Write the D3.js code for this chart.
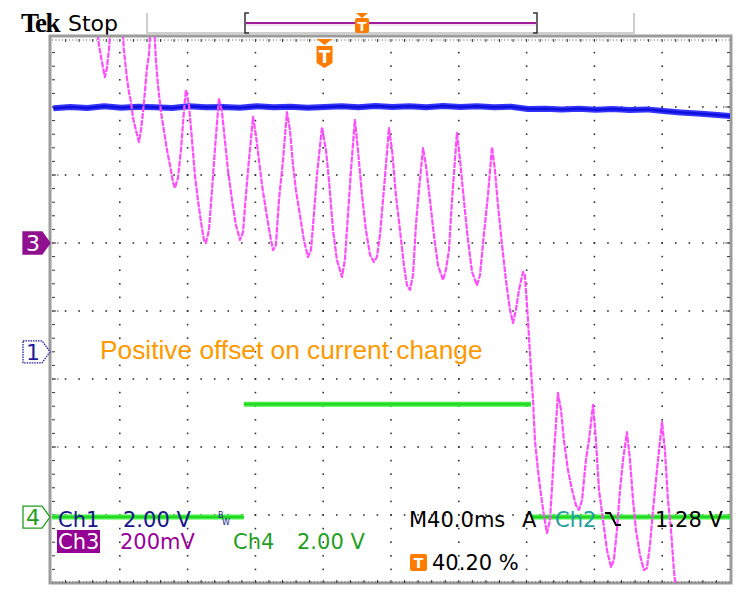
<!DOCTYPE html>
<html>
<head>
<meta charset="utf-8">
<script src="https://cdn.jsdelivr.net/npm/d3@7"></script>
<style>
  body { margin: 0; background: #fff; }
  text { font-family: "DejaVu Sans", sans-serif; }
</style>
</head>
<body>
<div id="chart-area"></div>
<script>
// scope settings
var timePerDiv = 40;      // ms
var triggerPct = 40.2;    // % of record before trigger
var ch1PerDiv = 2, ch1Pos = -0.6;     // V/div, divisions
var ch3PerDiv = 200, ch3Pos = 1.0;    // mV/div
var ch4PerDiv = 2, ch4Pos = -3.03;    // V/div

// Ch3 (current probe, mV)
var ch3Time = [-134.9, -133.1, -131.3, -129.6, -128.4, -127.2, -126.0, -119.5, -118.4, -116.6,
  -115.4, -114.2, -113.0, -111.3, -109.5, -108.3, -107.1, -106.0, -104.8, -103.6,
  -102.4, -100.7, -99.5, -98.3, -96.5, -94.8, -93.0, -91.2, -89.4, -88.3,
  -86.5, -84.7, -83.0, -81.8, -80.0, -78.2, -76.5, -74.7, -72.9, -71.2,
  -70.0, -68.2, -66.4, -64.7, -62.3, -60.5, -58.8, -57.0, -54.6, -52.3,
  -49.9, -48.1, -46.4, -44.6, -42.2, -40.5, -38.7, -36.9, -34.6, -32.2,
  -30.4, -28.7, -26.9, -24.5, -22.2, -20.4, -18.6, -16.9, -14.5, -12.2,
  -9.8, -8.0, -6.3, -4.5, -1.5, 0.8, 2.6, 5.0, 7.3, 10.3,
  12.0, 13.8, 15.6, 17.9, 19.7, 22.1, 24.4, 26.8, 29.1, 30.9,
  32.7, 35.0, 38.0, 39.8, 42.1, 44.5, 46.8, 48.6, 50.4, 52.2,
  53.9, 55.7, 58.1, 59.8, 62.2, 64.5, 66.9, 69.9, 71.6, 73.4,
  75.2, 78.1, 79.9, 82.2, 84.6, 87.0, 89.9, 91.7, 94.0, 96.4,
  98.8, 100.5, 102.3, 104.7, 107.0, 109.4, 111.2, 112.9, 114.7, 117.1,
  118.2, 120.0, 121.8, 123.0, 124.1, 125.9, 127.7, 129.4, 131.2, 133.0,
  134.8, 135.9, 137.7, 139.5, 141.2, 143.6, 146.0, 148.3, 150.1, 151.9,
  154.2, 156.0, 158.4, 160.1, 161.9, 164.3, 166.6, 169.0, 170.7, 172.5,
  174.3, 176.1, 178.4, 180.2, 182.0, 183.7, 186.1, 188.4, 190.2, 192.0,
  193.8, 196.1, 199.1, 200.8, 202.6, 204.4, 206.1, 207.9];
var ch3mV = [656, 582, 532, 488, 515, 568, 656, 656, 568, 485,
  444, 415, 368, 332, 297, 332, 385, 444, 515, 553,
  656, 656, 538, 465, 385, 332, 274, 229, 179, 162,
  191, 274, 385, 450, 406, 303, 200, 126, 62, 9,
  0, 38, 156, 274, 426, 385, 303, 215, 126, 53,
  9, 32, 141, 244, 371, 318, 244, 171, 97, 24,
  -21, -6, 126, 244, 385, 332, 229, 156, 82, 9,
  -41, -21, 82, 200, 341, 274, 185, 38, -50, -100,
  -50, 82, 215, 362, 274, 141, 38, -35, -56, -41,
  24, 156, 338, 274, 141, 38, -65, -124, -138, -94,
  53, 156, 279, 229, 126, 24, -65, -109, -79, -21,
  126, 324, 244, 126, 9, -85, -124, -94, 24, 141,
  282, 215, 112, -6, -109, -197, -235, -197, -138, -85,
  -94, -226, -374, -462, -579, -668, -741, -800, -853, -815,
  -668, -579, -441, -491, -579, -668, -726, -771, -785, -756,
  -638, -579, -476, -579, -726, -815, -903, -953, -932, -844,
  -726, -638, -556, -638, -756, -844, -918, -962, -956, -888,
  -785, -668, -526, -609, -756, -844, -962, -1050];

// Ch1 (V)
var ch1Time = [-160, -150, -140, -130, -120, -110, -100, -90, -80, -70,
  -60, -50, -40, -30, -20, -10, 0, 10, 20, 30,
  40, 50, 60, 70, 80, 90, 100, 110, 120, 130,
  140, 150, 160, 170, 180, 190, 200, 210, 220, 230, 240];
var ch1Volts = [7.16, 7.20, 7.17, 7.22, 7.18, 7.21, 7.19, 7.17, 7.22, 7.19,
  7.20, 7.18, 7.22, 7.19, 7.21, 7.18, 7.20, 7.22, 7.19, 7.23,
  7.20, 7.22, 7.19, 7.23, 7.20, 7.22, 7.19, 7.21, 7.14, 7.15,
  7.13, 7.15, 7.12, 7.14, 7.11, 7.13, 7.08, 7.04, 7.01, 6.97, 6.93];

// Ch4 (V)
var ch4Time = [-160.8, -47.6, -47.6, 121.8, 121.8, 239.2];
var ch4Volts = [0, 0, 3.32, 3.32, 0, 0];

var plotLeft = 52, plotRight = 730, plotTop = 39, plotBottom = 583;
var W = 741, H = 592;

var svg = d3.select("#chart-area").append("svg")
    .attr("width", W)
    .attr("height", H);

// X scale (ms, relative to trigger)
var recLen = timePerDiv * 10;
var x = d3.scaleLinear()
  .domain([-recLen * triggerPct / 100, recLen * (1 - triggerPct / 100)])
  .range([plotLeft, plotRight]);

// division scale and per channel scales
var yDiv = d3.scaleLinear().domain([-4, 4]).range([plotBottom, plotTop]);
function chScale(pos, perDiv) {
  return d3.scaleLinear()
    .domain([(-4 - pos) * perDiv, (4 - pos) * perDiv])
    .range([plotBottom, plotTop]);
}
var y1 = chScale(ch1Pos, ch1PerDiv);
var y3 = chScale(ch3Pos, ch3PerDiv);
var y4 = chScale(ch4Pos, ch4PerDiv);

// header
svg.append("text")
  .attr("x", 21).attr("y", 32)
  .style("font-family", "'Liberation Serif', serif")
  .attr("font-weight", "bold")
  .attr("font-size", "27px")
  .attr("letter-spacing", "-1.5px")
  .text("Tek");
svg.append("text")
  .attr("x", 68).attr("y", 31)
  .attr("font-size", "22px")
  .text("Stop");

svg.append("path")
  .attr("d", "M147,13 V33 H634 V13")
  .attr("fill", "none")
  .attr("stroke", "#cfcfcf")
  .attr("stroke-width", 2);

// record bracket
svg.append("line")
  .attr("x1", 246).attr("x2", 536).attr("y1", 23).attr("y2", 23)
  .attr("stroke", "#a01c9c").attr("stroke-width", 2);
svg.append("line")
  .attr("x1", 246).attr("x2", 536).attr("y1", 25).attr("y2", 25)
  .attr("stroke", "#e8c8e8").attr("stroke-width", 1);
svg.append("path")
  .attr("d", "M249,13 H245 V33 H249 M533,13 H537 V33 H533")
  .attr("fill", "none").attr("stroke", "#333").attr("stroke-width", 1.5);
svg.append("path")
  .attr("d", "M356,13 H368 L362,18 Z M357,18 H367 Q369,18 369,20 V31 Q369,33 367,33 H357 Q355,33 355,31 V20 Q355,18 357,18 Z")
  .attr("fill", "#ff7c00");
svg.append("text")
  .attr("x", 362).attr("y", 31)
  .attr("text-anchor", "middle")
  .attr("font-size", "13px").attr("font-weight", "bold")
  .attr("fill", "#fff")
  .text("T");

// graticule frame
svg.append("rect")
  .attr("x", plotLeft - 2).attr("y", plotTop - 3)
  .attr("width", plotRight - plotLeft + 3).attr("height", plotBottom - plotTop + 3)
  .attr("fill", "none")
  .attr("stroke", "#9c9c9c")
  .attr("stroke-width", 3);

var g = svg.append("g");

// grid dots along each major line
var majorX = d3.range(1, 10).map(k => x.domain()[0] + k * timePerDiv);
var minorX = d3.range(1, 50).map(k => x.domain()[0] + k * timePerDiv / 5);
var majorY = d3.range(-3, 4);
var minorY = d3.range(-19, 20).map(k => k / 5);

majorX.forEach(t => {
  g.selectAll(null)
    .data(minorY)
    .enter().append("rect")
      .attr("x", x(t) - 0.8)
      .attr("y", d => yDiv(d) - 0.8)
      .attr("width", 1.6).attr("height", 1.6)
      .attr("fill", "#333");
});
majorY.forEach(v => {
  g.selectAll(null)
    .data(minorX)
    .enter().append("rect")
      .attr("x", d => x(d) - 0.8)
      .attr("y", yDiv(v) - 0.8)
      .attr("width", 1.6).attr("height", 1.6)
      .attr("fill", "#333");
});

// border ticks
g.selectAll(null).data(minorX).enter().append("line")
  .attr("x1", d => x(d)).attr("x2", d => x(d))
  .attr("y1", plotTop).attr("y2", plotTop + 3)
  .attr("stroke", "#333").attr("stroke-width", 1);
g.selectAll(null).data(minorX).enter().append("line")
  .attr("x1", d => x(d)).attr("x2", d => x(d))
  .attr("y1", plotBottom - 3).attr("y2", plotBottom)
  .attr("stroke", "#333").attr("stroke-width", 1);
g.selectAll(null).data(minorY).enter().append("line")
  .attr("x1", plotLeft).attr("x2", plotLeft + 3)
  .attr("y1", d => yDiv(d)).attr("y2", d => yDiv(d))
  .attr("stroke", "#333").attr("stroke-width", 1);
g.selectAll(null).data(minorY).enter().append("line")
  .attr("x1", plotRight - 3).attr("x2", plotRight)
  .attr("y1", d => yDiv(d)).attr("y2", d => yDiv(d))
  .attr("stroke", "#333").attr("stroke-width", 1);
// longer ticks where major lines meet the border
g.selectAll(null).data(majorY).enter().append("line")
  .attr("x1", plotLeft).attr("x2", plotLeft + 7)
  .attr("y1", d => yDiv(d)).attr("y2", d => yDiv(d))
  .attr("stroke", "#333").attr("stroke-dasharray", "1.5,1");
g.selectAll(null).data(majorY).enter().append("line")
  .attr("x1", plotRight - 7).attr("x2", plotRight)
  .attr("y1", d => yDiv(d)).attr("y2", d => yDiv(d))
  .attr("stroke", "#333").attr("stroke-dasharray", "1.5,1");
g.append("line")
  .attr("x1", plotLeft).attr("x2", plotRight).attr("y1", plotTop + 1).attr("y2", plotTop + 1)
  .attr("stroke", "#555").attr("stroke-dasharray", "1,2.4");
g.append("line")
  .attr("x1", plotLeft).attr("x2", plotRight).attr("y1", plotBottom - 1).attr("y2", plotBottom - 1)
  .attr("stroke", "#555").attr("stroke-dasharray", "1,2.4");

// traces
svg.append("clipPath").attr("id", "clip")
  .append("rect")
    .attr("x", plotLeft).attr("y", plotTop - 2)
    .attr("width", plotRight - plotLeft).attr("height", plotBottom - plotTop + 2);

var traces = svg.append("g").attr("clip-path", "url(#clip)");

// Ch4: levels only, edges are not drawn by the scope
var ch4 = ch4Time.map((t, i) => ({t: t, v: ch4Volts[i]}));
var ch4Segs = [];
for (var i = 0; i < ch4.length - 1; i++) {
  if (ch4[i].v === ch4[i + 1].v) ch4Segs.push([ch4[i], ch4[i + 1]]);
}
var line4 = d3.line().x(d => x(d.t)).y(d => y4(d.v));
traces.selectAll(".ch4")
  .data(ch4Segs)
  .enter().append("path")
    .attr("class", "ch4")
    .attr("d", line4)
    .attr("fill", "none")
    .attr("stroke", "#44ee44")
    .attr("stroke-width", 5);
traces.selectAll(".ch4core")
  .data(ch4Segs)
  .enter().append("path")
    .attr("class", "ch4core")
    .attr("d", line4)
    .attr("fill", "none")
    .attr("stroke", "#22d622")
    .attr("stroke-width", 2);

// Ch1
var line1 = d3.line().x((d, i) => x(ch1Time[i])).y(d => y1(d));
traces.append("path")
  .attr("d", line1(ch1Volts))
  .attr("fill", "none")
  .attr("stroke", "#3434ff")
  .attr("stroke-width", 6)
  .attr("stroke-linejoin", "round");
traces.append("path")
  .attr("d", line1(ch1Volts))
  .attr("fill", "none")
  .attr("stroke", "#1010dc")
  .attr("stroke-width", 2.5);

// Ch3
var line3 = d3.line().x((d, i) => x(ch3Time[i])).y(d => y3(d));
traces.append("path")
  .attr("d", line3(ch3mV))
  .attr("fill", "none")
  .attr("stroke", "#ff4dff")
  .attr("stroke-width", 2.2)
  .attr("stroke-linejoin", "round")
  .attr("stroke-dasharray", "6,1");

// trigger position marker
var tx = x(0);
svg.append("path")
  .attr("d", "M" + (tx - 8) + ",39 H" + (tx + 8) + " L" + tx + ",45 Z" +
    " M" + (tx - 8) + ",46 H" + (tx + 8) + " V63 L" + tx + ",68 L" + (tx - 8) + ",63 Z")
  .attr("fill", "#ff7c00");
svg.append("text")
  .attr("x", tx).attr("y", 63)
  .attr("text-anchor", "middle")
  .attr("font-size", "17px").attr("font-weight", "bold")
  .attr("fill", "#fff")
  .text("T");

// channel ground markers
function marker(num, pos, fill, stroke, textCol, dotted) {
  var yy = yDiv(pos);
  svg.append("path")
    .attr("d", "M23," + (yy - 11) + " H42 L50," + yy + " L42," + (yy + 11) + " H23 Z")
    .attr("fill", fill)
    .attr("stroke", stroke)
    .attr("stroke-width", 1.3)
    .attr("stroke-dasharray", dotted ? "1.5,1" : null);
  svg.append("text")
    .attr("x", 33).attr("y", yy + 8)
    .attr("text-anchor", "middle")
    .attr("font-size", "22px")
    .attr("fill", textCol)
    .text(num);
}
marker("3", ch3Pos, "#8f118f", "#8f118f", "#fff", false);
marker("1", ch1Pos, "#fff", "#1c1c9c", "#1c1c9c", true);
marker("4", ch4Pos, "#fff", "#1f9f1f", "#1f9f1f", false);

// annotation
svg.append("text")
  .attr("x", 100).attr("y", 359)
  .style("font-family", "'Liberation Sans', Arial, sans-serif")
  .attr("font-size", "26.3px")
  .attr("fill", "#ff9900")
  .text("Positive offset on current change");

// readouts
function label(txt, xx, yy, col) {
  return svg.append("text")
    .attr("x", xx).attr("y", yy)
    .attr("font-size", "21px")
    .attr("fill", col)
    .text(txt);
}
label("Ch1", 58, 527, "#16168a");
label(ch1PerDiv.toFixed(2) + " V", 123, 527, "#16168a");
svg.append("text").attr("x", 218).attr("y", 518)
  .attr("font-size", "8px").attr("fill", "#16168a").text("B");
svg.append("text").attr("x", 222).attr("y", 525)
  .attr("font-size", "8px").attr("fill", "#16168a").text("W");

svg.append("rect")
  .attr("x", 57).attr("y", 530)
  .attr("width", 43).attr("height", 23)
  .attr("fill", "#930093");
label("Ch3", 58, 549, "#fff");
label(ch3PerDiv + "mV", 120, 549, "#990099");
label("Ch4", 233, 549, "#1f9f1f");
label(ch4PerDiv.toFixed(2) + " V", 297, 549, "#1f9f1f");

label("M" + timePerDiv.toFixed(1) + "ms", 409, 527, "#000");
label("A", 522, 527, "#000");
label("Ch2", 555, 527, "#1fa0a0");
svg.append("path")
  .attr("d", "M605,513 H610 L616,525 H621")
  .attr("fill", "none").attr("stroke", "#000").attr("stroke-width", 2);
label("1.28 V", 655, 527, "#000");

svg.append("rect")
  .attr("x", 410).attr("y", 554)
  .attr("width", 17).attr("height", 17)
  .attr("rx", 2)
  .attr("fill", "#ff7c00");
svg.append("text")
  .attr("x", 418.5).attr("y", 568)
  .attr("text-anchor", "middle")
  .attr("font-size", "14px").attr("font-weight", "bold")
  .attr("fill", "#fff")
  .text("T");
label(triggerPct.toFixed(2) + " %", 432, 570, "#000");
</script>
</body>
</html>
